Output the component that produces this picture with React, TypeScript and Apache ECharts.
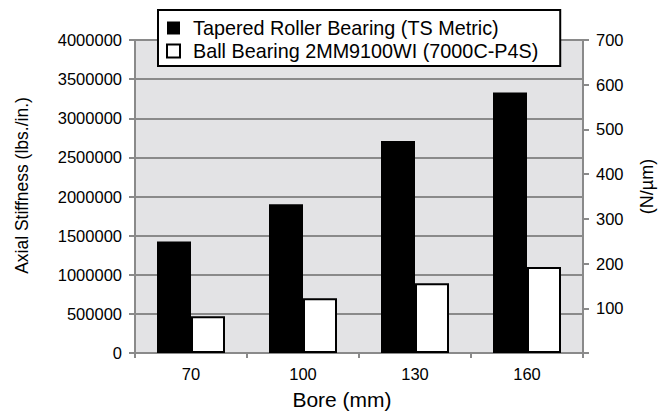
import React, { useEffect, useRef } from "react";
import * as echarts from "echarts";

const categories = ["70", "100", "130", "160"];
const taperedRoller = [1425000, 1900000, 2710000, 3330000];
const ballBearing = [470000, 700000, 890000, 1100000];
const seriesNames = ["Tapered Roller Bearing (TS Metric)", "Ball Bearing 2MM9100WI (7000C-P4S)"];

const SANS = "'Liberation Sans', Arial, sans-serif";
const GRAY = "#8a8a8a";
const TICK_FONT = 16.5;

export default function App() {
  const ref = useRef<HTMLDivElement>(null);
  useEffect(() => {
    if (!ref.current) return;
    const chart = echarts.init(ref.current, null, { renderer: "svg" });
    chart.setOption({
      animation: false,
      backgroundColor: "#ffffff",
      grid: {
        left: 135,
        right: 75,
        top: 40,
        bottom: 60,
        show: true,
        backgroundColor: "#e3e3e5",
        borderWidth: 0,
      },
      legend: {
        orient: "vertical",
        left: 158,
        top: 10,
        icon: "rect",
        itemWidth: 13,
        itemHeight: 13,
        itemGap: 1,
        padding: [7, 22, 4, 8],
        borderColor: "#000",
        borderWidth: 2,
        backgroundColor: "#fff",
        textStyle: { fontFamily: SANS, fontSize: 19.8, color: "#000", lineHeight: 22, padding: [0, 0, 0, 8] },
        data: seriesNames,
      },
      xAxis: {
        type: "category",
        data: categories,
        name: "Bore (mm)",
        nameLocation: "middle",
        nameGap: 36,
        nameTextStyle: { fontFamily: SANS, fontSize: 21, color: "#000", padding: [0, 34, 0, 0] },
        axisLine: { show: true, lineStyle: { color: GRAY, width: 2 } },
        axisTick: { show: true, alignWithLabel: false, length: 5, lineStyle: { color: GRAY, width: 2 } },
        axisLabel: { fontFamily: SANS, fontSize: TICK_FONT, color: "#000", margin: 12 },
      },
      yAxis: [
        {
          type: "value",
          min: 0,
          max: 4000000,
          interval: 500000,
          position: "left",
          name: "Axial Stiffness (lbs./in.)",
          nameLocation: "middle",
          nameGap: 104,
          nameRotate: 90,
          nameTextStyle: { fontFamily: SANS, fontSize: 17.5, color: "#000", padding: [0, 0, 0, 22] },
          axisLine: { show: true, lineStyle: { color: GRAY, width: 2 } },
          axisTick: { show: true, length: 6, lineStyle: { color: GRAY, width: 2 } },
          axisLabel: {
            fontFamily: SANS,
            fontSize: TICK_FONT,
            color: "#000",
            margin: 13,
            formatter: (v: number) => String(v),
          },
          splitLine: { show: true, lineStyle: { color: GRAY, width: 2 } },
        },
        {
          type: "value",
          min: 0,
          max: 700,
          interval: 100,
          position: "right",
          name: "(N/µm)",
          nameLocation: "middle",
          nameGap: 55,
          nameRotate: 90,
          nameTextStyle: { fontFamily: SANS, fontSize: 18, color: "#000", padding: [0, 0, 0, 20] },
          axisLine: { show: true, lineStyle: { color: GRAY, width: 2 } },
          axisTick: { show: true, length: 6, lineStyle: { color: GRAY, width: 2 } },
          axisLabel: {
            fontFamily: SANS,
            fontSize: TICK_FONT,
            color: "#000",
            margin: 13,
            formatter: (v: number) => (v === 0 ? "" : String(v)),
          },
          splitLine: { show: false },
        },
      ],
      series: [
        {
          name: seriesNames[0],
          type: "bar",
          yAxisIndex: 0,
          data: taperedRoller,
          barWidth: 34,
          barGap: "0%",
          itemStyle: { color: "#000" },
        },
        {
          name: seriesNames[1],
          type: "bar",
          yAxisIndex: 0,
          data: ballBearing,
          barWidth: 34,
          barGap: "0%",
          itemStyle: { color: "#fff", borderColor: "#000", borderWidth: 2 },
        },
      ],
    });
    return () => chart.dispose();
  }, []);
  return <div ref={ref} style={{ position: "fixed", left: 0, top: 0, width: 664, height: 415 }} />;
}
